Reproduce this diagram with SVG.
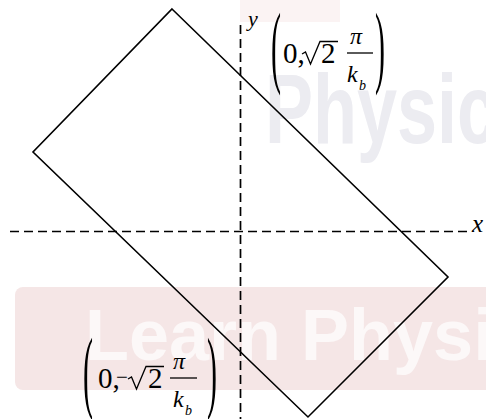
<svg xmlns="http://www.w3.org/2000/svg" width="486" height="419" viewBox="0 0 486 419">
<style>
.ln{fill:none;stroke:#000;stroke-width:1.6;stroke-linejoin:miter}
.ax{fill:none;stroke:#000;stroke-width:1.7;stroke-dasharray:9 5}
.bar{stroke:#000;stroke-width:1.3}
.rad{fill:none;stroke:#000;stroke-width:1.3;stroke-linejoin:miter}
.m{font-family:"Liberation Serif","Times New Roman",serif;fill:#000}
.i{font-style:italic}
.p{font-size:30px}
.n{font-size:29px}
.wm{font-family:"Liberation Sans",Arial,sans-serif;font-weight:bold}
</style>
<rect width="486" height="419" fill="#fff"/>
<g id="watermark">
<rect x="240" y="0" width="100" height="22" fill="#fbf3f3"/>
<text class="wm" transform="translate(265,143) scale(1,1.37)" font-size="72" fill="#ececf1">Physics</text>
<rect x="15" y="287" width="490" height="103" rx="8" fill="#f5e6e6"/>
<text class="wm" x="85" y="360" font-size="72" fill="#fcf8f8">Learn Physics</text>
</g>
<g id="connectors">
<line class="ax" x1="10" y1="231.5" x2="468" y2="231.5"/>
<line class="ax" x1="240.5" y1="25" x2="240.5" y2="419"/>
</g>
<g id="axis-labels">
<text class="m i" x="248" y="26" font-size="22">y</text>
<text class="m i" x="472" y="232" font-size="25">x</text>
</g>
<g id="rectangle">
<polygon class="ln" points="172,9 448,277 308,417 33,152"/>
</g>
<g id="label-top">
<text class="m p" transform="translate(271,76) scale(1,3)">(</text>
<text class="m n" x="283" y="63">0,</text>
<polyline class="rad" points="302,54 305.5,52 310.5,64 320,41.5 338,41.5"/>
<text class="m n" x="321" y="63">2</text>
<text class="m i" x="350" y="44" font-size="24">π</text>
<line class="bar" x1="347" y1="53" x2="373" y2="53"/>
<text class="m i" x="347" y="82" font-size="24">k</text>
<text class="m i" x="359" y="90" font-size="14">b</text>
<text class="m p" transform="translate(375,76) scale(1,3)">)</text>
</g>
<g id="label-bottom">
<text class="m p" transform="translate(83,401) scale(1,3)">(</text>
<text class="m n" x="98" y="388">0,</text>
<text class="m" x="116" y="384" font-size="21">−</text>
<polyline class="rad" points="128,379 131.5,377 136.5,389 146,366.5 164,366.5"/>
<text class="m n" x="148" y="388">2</text>
<text class="m i" x="173" y="369" font-size="24">π</text>
<line class="bar" x1="170" y1="378" x2="197" y2="378"/>
<text class="m i" x="173" y="407" font-size="24">k</text>
<text class="m i" x="185" y="415" font-size="14">b</text>
<text class="m p" transform="translate(207,401) scale(1,3)">)</text>
</g>
</svg>
